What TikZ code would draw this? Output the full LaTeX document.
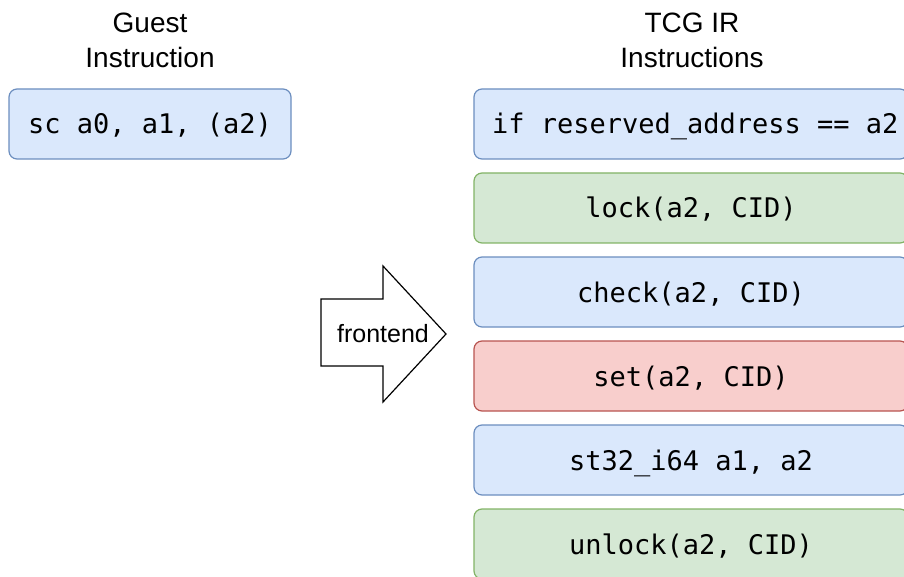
\documentclass[tikz,border=0pt]{standalone}
\usepackage{fontspec}
\setmainfont{Liberation Sans}
\newfontfamily\codefont{DejaVu Sans Mono}
\begin{document}
\begin{tikzpicture}[x=1pt,y=-1pt,
  codebox/.style={draw, rounded corners=8pt, line width=1.2pt, inner sep=0pt,
    text height=20pt, text depth=0pt,
    font=\codefont\fontsize{27}{32}\selectfont},
  irbox/.style={minimum width=434pt, minimum height=70pt},
  bluebox/.style={codebox, fill=blueFill, draw=blueLine},
  greenbox/.style={codebox, fill=greenFill, draw=greenLine},
  redbox/.style={codebox, fill=redFill, draw=redLine},
  heading/.style={align=center, font=\fontsize{28}{35}\selectfont},
]
\definecolor{blueFill}{HTML}{DAE8FC}
\definecolor{blueLine}{HTML}{6C8EBF}
\definecolor{greenFill}{HTML}{D5E8D4}
\definecolor{greenLine}{HTML}{82B366}
\definecolor{redFill}{HTML}{F8CECC}
\definecolor{redLine}{HTML}{B85450}

\useasboundingbox (0,0) rectangle (904,577);
\clip (0,0) rectangle (904,577);

% column headings
\node[heading] (hguest) at (150,40) {Guest\\Instruction};
\node[heading] (htcg) at (692,40) {TCG IR\\Instructions};

% guest instruction
\node[bluebox, minimum width=282pt, minimum height=70pt] (guest) at (150,124) {sc a0, a1, (a2)};

% TCG IR instruction stack
\node[bluebox, irbox] (ir1) at (691,124) {\makebox[398pt][l]{if reserved\_address == a2}};
\node[greenbox, irbox] (ir2) at (691,208) {lock(a2, CID)};
\node[bluebox, irbox] (ir3) at (691,292) {check(a2, CID)};
\node[redbox, irbox] (ir4) at (691,376) {set(a2, CID)};
\node[bluebox, irbox] (ir5) at (691,460) {st32\_i64 a1, a2};
\node[greenbox, irbox] (ir6) at (691,544) {unlock(a2, CID)};

% frontend arrow
\draw[line width=1.2pt, fill=white, line join=miter]
  (321,299) -- (383,299) -- (383,266) -- (446,334) -- (383,402) -- (383,366) -- (321,366) -- cycle;
\node[font=\fontsize{25}{28}\selectfont] (fe) at (383,334) {frontend};
\end{tikzpicture}
\end{document}
